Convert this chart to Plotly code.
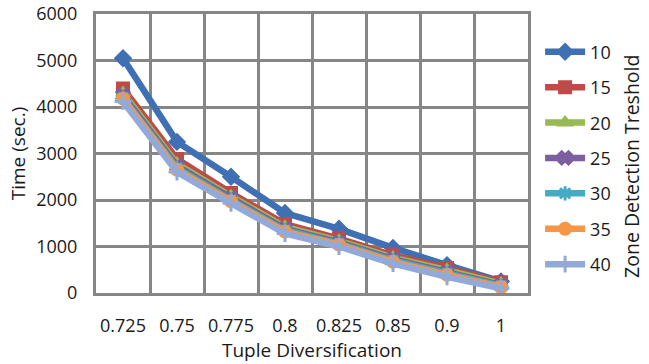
import plotly.graph_objects as go

categories = ["0.725", "0.75", "0.775", "0.8", "0.825", "0.85", "0.9", "1"]
series_names = ["10", "15", "20", "25", "30", "35", "40"]
s10 = [5050, 3250, 2500, 1720, 1380, 970, 600, 250]
s15 = [4400, 2880, 2150, 1480, 1170, 810, 540, 230]
s20 = [4300, 2780, 2080, 1420, 1120, 760, 490, 200]
s25 = [4250, 2730, 2040, 1380, 1090, 730, 450, 170]
s30 = [4200, 2690, 2000, 1350, 1060, 700, 420, 150]
s35 = [4180, 2650, 1970, 1320, 1040, 670, 390, 130]
s40 = [4120, 2600, 1930, 1280, 1000, 630, 350, 100]
series_values = [s10, s15, s20, s25, s30, s35, s40]

colors = ["#4070B4", "#BE4B48", "#98B954", "#7D5FA0", "#46AAC5", "#F79646", "#93A9D8"]
symbols = ["diamond", "square", "triangle-up", "x", "asterisk", "circle", "cross-thin"]

FONT = "Open Sans"
fig = go.Figure()
for name, vals, c, sym in zip(series_names, series_values, colors, symbols):
    mk = dict(symbol=sym, size=12, color=c, line=dict(color=c, width=2))
    if sym in ("asterisk", "cross-thin"):
        mk["line"] = dict(color=c, width=3)
    fig.add_trace(go.Scatter(
        x=categories, y=vals, name=name, mode="lines+markers",
        line=dict(color=c, width=6.5), marker=mk, legendgroup=name,
    ))

fig.update_layout(
    width=649, height=364,
    margin=dict(l=96, r=121, t=14, b=71),
    plot_bgcolor="white", paper_bgcolor="white",
    font=dict(family=FONT, size=18, color="#1a1a1a"),
    xaxis=dict(
        type="category", tickson="boundaries", range=[-0.5, 7.5],
        showgrid=True, gridcolor="#868686", gridwidth=3,
        showline=True, linecolor="#868686", linewidth=3, mirror=True,
        ticks="", ticklabelstandoff=14, automargin=False,
        title=dict(text="Tuple Diversification", standoff=6, font=dict(size=19)),
        tickfont=dict(size=18),
    ),
    yaxis=dict(
        range=[0, 6000], dtick=1000,
        showgrid=True, gridcolor="#868686", gridwidth=3,
        showline=True, linecolor="#868686", linewidth=3, mirror=True,
        zeroline=False, ticks="", ticklabelstandoff=12, automargin=False,
        title=dict(text="Time (sec.)", standoff=6, font=dict(size=19)),
        tickfont=dict(size=18),
    ),
    legend=dict(
        x=1.028, y=0.93, xanchor="left", yanchor="top",
        font=dict(size=18), tracegroupgap=9, itemwidth=40,
        bgcolor="rgba(0,0,0,0)",
    ),
    annotations=[dict(
        text="Zone Detection Treshold", textangle=-90,
        x=(632 - 96) / 432, y=0.452, xref="paper", yref="paper",
        xanchor="center", yanchor="middle",
        showarrow=False, font=dict(size=19.5, family=FONT),
    )],
)

fig.write_html("out.html")
